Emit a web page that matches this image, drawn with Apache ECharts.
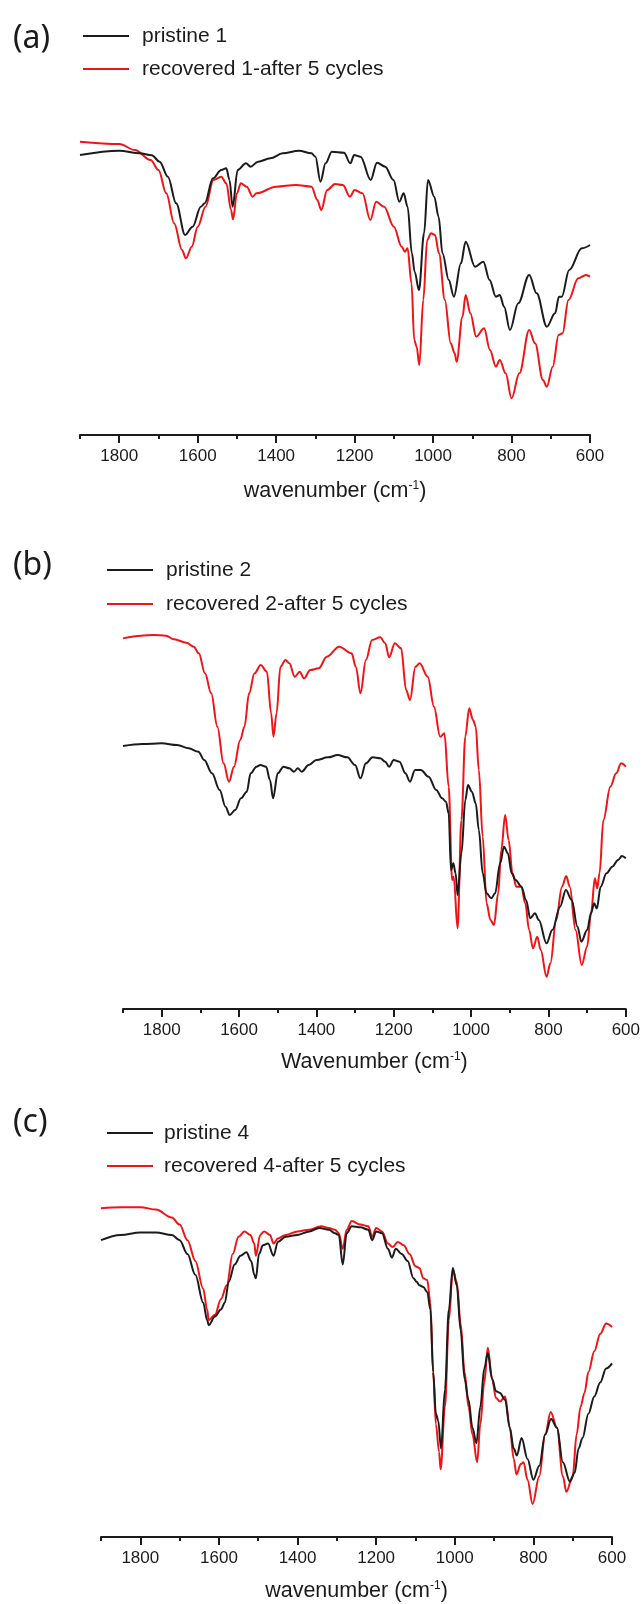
<!DOCTYPE html>
<html>
<head>
<meta charset="utf-8">
<script src="https://cdn.jsdelivr.net/npm/echarts@6/dist/echarts.min.js"></script>
<style>
html,body{margin:0;padding:0;background:#fff;}
#chart{width:643px;height:1604px;}
</style>
</head>
<body>
<div id="chart"></div>
<script>
// ---------- tick labels ----------
const majorTicks = [600, 800, 1000, 1200, 1400, 1600, 1800];
const minorTicks = [700, 900, 1100, 1300, 1500, 1700, 1900];

// ---------- panel (a) ----------
const aPristineWn = [1900,1800,1748,1717,1697,1676,1655,1632,1613,1592,1582,1561,1540,1527,1519,1511,1498,1477,1465,1446,1415,1383,1342,1310,1300,1287,1274,1258,1227,1211,1201,1185,1159,1143,1122,1101,1086,1075,1065,1054,1047,1036,1023,1013,997,986,976,960,947,929,917,893,872,856,840,830,819,804,783,755,736,710,689,679,672,653,621,600];
const aPristineT  = [84.0,85.3,84.5,83.9,82.0,77.5,69.5,60.0,62.5,68.5,69.5,77.0,79.5,80.0,76.5,68.5,79.5,81.5,80.5,82.0,83.0,84.5,85.3,84.5,83.5,76.0,81.5,85.0,84.7,81.5,84.0,83.5,76.5,81.7,80.5,76.5,70.0,72.5,68.5,54.5,49.0,43.5,60.5,76.5,71.5,65.5,54.5,46.5,41.5,51.5,58.0,50.5,52.0,46.5,41.5,42.0,38.5,31.5,39.5,48.0,42.5,32.5,36.5,41.5,41.5,49.5,56.0,57.0];
const aRecovWn = [1900,1800,1760,1720,1700,1680,1660,1640,1630,1615,1600,1580,1560,1540,1527,1515,1510,1500,1490,1475,1460,1450,1400,1350,1310,1295,1285,1270,1250,1230,1212,1200,1180,1160,1145,1125,1100,1080,1072,1065,1055,1048,1042,1035,1025,1015,1005,995,985,970,955,945,940,925,917,905,890,870,855,840,830,815,800,780,755,740,720,710,695,680,670,655,630,610,600];
const aRecovT  = [88.0,87.3,85.5,82.5,79.5,72.5,63.5,55.5,53.0,56.5,62.5,68.5,76.5,77.5,75.5,67.5,64.7,72.5,75.5,74.5,71.5,72.5,74.5,75.0,74.5,70.5,67.5,73.5,75.3,75.0,71.5,73.5,72.5,64.5,70.0,68.5,62.5,56.5,55.0,56.0,45.5,28.5,26.5,21.0,40.5,58.5,60.5,60.0,54.5,40.5,27.5,24.5,22.0,35.5,42.0,36.5,29.5,32.0,25.5,20.5,22.5,18.5,11.0,18.5,31.5,27.5,16.5,14.5,20.5,30.0,30.5,40.5,47.0,48.0,47.5];

// ---------- panel (b) ----------
const bPristineWn = [1900,1850,1800,1760,1730,1705,1690,1670,1650,1635,1624,1610,1595,1580,1570,1555,1545,1530,1520,1512,1500,1485,1470,1458,1448,1438,1420,1400,1370,1345,1320,1300,1286,1272,1255,1235,1222,1212,1200,1185,1170,1158,1145,1130,1110,1090,1075,1065,1058,1052,1046,1040,1035,1025,1015,1008,998,988,980,970,960,948,938,925,915,905,895,885,870,858,847,835,825,805,790,770,755,740,725,715,700,690,682,675,665,650,635,620,610,600];
const bPristineT  = [78.9,79.5,79.7,79.2,78.2,77.2,74.7,70.7,65.7,60.7,58.2,59.7,63.2,65.2,70.7,72.7,73.2,72.7,68.7,63.2,70.7,72.7,72.2,71.2,72.2,71.2,73.2,74.7,75.5,76.2,75.5,73.2,69.2,73.7,75.5,75.2,74.2,72.7,74.7,74.2,70.7,68.2,71.7,71.7,69.7,65.7,63.2,62.2,58.7,41.7,43.7,40.7,34.2,46.7,62.7,67.2,65.2,61.7,53.7,40.7,34.7,33.2,34.7,43.7,48.7,46.7,40.7,38.7,36.7,32.7,27.2,28.7,26.7,19.7,23.7,30.7,35.7,32.7,24.7,20.2,23.7,28.7,31.7,30.2,36.7,40.7,42.7,44.7,45.9,45.2];
const bRecovWn = [1900,1853,1821,1789,1768,1736,1717,1704,1688,1672,1656,1640,1626,1613,1597,1586,1574,1560,1544,1528,1517,1511,1503,1493,1480,1470,1456,1443,1432,1416,1394,1373,1341,1309,1298,1286,1272,1256,1235,1222,1212,1197,1181,1168,1158,1144,1133,1112,1096,1080,1069,1058,1049,1045,1035,1025,1015,1005,995,988,980,970,960,950,941,930,922,912,903,893,883,870,860,850,840,829,820,805,795,780,765,754,745,730,714,700,690,680,674,668,658,640,625,612,600];
const bRecovT  = [111.2,112.0,112.2,112.0,110.9,109.9,108.7,106.7,100.7,94.7,84.7,73.7,68.2,72.7,80.7,84.7,94.7,100.7,103.2,101.2,88.7,81.7,88.7,102.7,104.7,103.7,99.7,101.2,99.2,101.7,102.2,105.7,108.7,106.7,102.7,94.7,104.7,110.7,111.5,109.7,105.5,109.7,108.2,95.7,92.7,102.7,103.7,99.7,90.7,81.7,82.7,66.7,38.7,39.7,24.2,56.7,81.7,90.2,86.7,84.7,71.7,51.7,31.7,26.7,25.2,34.7,47.7,58.2,50.7,40.7,36.7,36.7,31.7,23.7,18.2,21.7,17.7,9.7,13.7,26.7,36.7,39.9,36.7,23.7,13.2,18.7,28.7,39.2,36.2,40.7,56.7,66.7,70.7,73.7,72.7];

// ---------- panel (c) ----------
const cPristineWn = [1900,1850,1800,1760,1720,1700,1680,1660,1640,1630,1626,1610,1595,1585,1575,1560,1545,1530,1518,1510,1506,1498,1488,1475,1461,1450,1430,1400,1370,1345,1320,1305,1295,1285,1275,1262,1240,1220,1210,1200,1185,1170,1160,1150,1135,1120,1105,1097,1090,1080,1070,1062,1055,1048,1042,1035,1025,1015,1005,995,985,975,965,955,945,935,925,916,905,895,885,872,860,850,842,830,815,800,785,770,755,740,725,707,695,685,675,660,645,630,615,600];
const cPristineT  = [85.5,87.0,87.7,87.7,87.0,85.5,81.5,75.5,67.5,62.5,61.0,63.5,65.5,67.5,73.5,78.5,81.0,82.0,79.5,75.5,74.5,81.5,84.0,84.5,81.0,85.0,86.5,87.0,88.0,89.0,88.5,87.5,87.0,78.5,87.5,89.5,89.2,88.5,85.5,88.0,87.5,83.0,80.5,83.0,81.5,79.5,74.5,73.5,72.5,72.0,70.5,65.5,47.5,35.5,33.5,25.5,42.5,65.5,77.5,72.5,59.5,45.5,39.5,31.5,27.0,37.5,48.5,53.0,45.5,42.0,41.5,39.5,31.5,25.5,23.5,28.5,22.5,16.5,20.5,29.5,34.0,31.5,21.5,16.0,18.5,25.5,28.5,35.5,40.5,44.5,48.5,50.0];
const cRecovWn = [1900,1850,1800,1760,1720,1700,1680,1660,1640,1630,1626,1610,1595,1580,1565,1550,1535,1520,1510,1506,1495,1485,1470,1461,1450,1430,1400,1370,1340,1320,1305,1295,1285,1275,1262,1240,1220,1210,1200,1185,1170,1158,1145,1130,1115,1100,1090,1080,1070,1062,1055,1048,1040,1036,1025,1015,1005,995,985,975,965,955,943,935,925,916,905,895,885,872,860,850,843,832,825,815,802,785,770,756,740,725,716,700,690,680,670,660,645,630,615,600];
const cRecovT  = [94.7,95.0,95.0,94.3,92.0,90.0,85.5,79.5,71.5,65.5,62.5,64.0,68.5,72.5,81.5,86.5,88.0,87.0,84.5,81.0,87.0,88.0,87.0,84.5,86.0,87.0,88.0,88.5,89.5,89.0,88.5,87.5,83.0,88.5,91.0,90.0,89.5,86.5,89.0,88.0,84.5,83.5,85.0,84.0,81.5,78.0,77.5,74.5,74.0,67.5,47.5,32.5,24.5,19.5,37.5,62.5,77.0,73.5,61.5,47.5,37.5,29.5,21.5,32.5,44.5,54.5,45.5,40.0,39.0,40.5,31.5,22.5,18.0,21.0,21.5,16.5,9.5,17.5,29.5,36.0,31.5,17.5,13.0,17.5,29.5,37.5,41.5,47.5,53.5,58.5,61.5,60.5];

const names = {
  a: ['pristine 1', 'recovered 1-after 5 cycles'],
  b: ['pristine 2', 'recovered 2-after 5 cycles'],
  c: ['pristine 4', 'recovered 4-after 5 cycles']
};
const panelLabels = ['(a)', '(b)', '(c)'];
const axisTitles = ['wavenumber', 'Wavenumber', 'wavenumber'];

const BLACK = '#1b1b1b', RED = '#f01414';
const zip = (xs, ys) => xs.map((x, i) => [x, ys[i]]);

// layout per panel
const grids = [
  {left: 80, right: 53, top: 135, bottom: 1169},
  {left: 123, right: 16, top: 625.7, bottom: 595},
  {left: 101, right: 31, top: 1189.8, bottom: 67}
];
const yMax = [90, 115, 100];
const nameGaps = [45, 42, 43];

const xAxes = [], yAxes = [];
grids.forEach((g, i) => {
  const rich = {
    n: {fontSize: 21.5, fontFamily: 'Liberation Sans', color: '#1b1b1b'},
    s: {fontSize: 12, fontFamily: 'Liberation Sans', color: '#1b1b1b', padding: [0,0,11,0]}
  };
  xAxes.push({
    type: 'value', gridIndex: i, position: 'bottom', min: 600, max: 1900, inverse: true,
    splitLine: {show: false},
    axisLine: {show: true, onZero: false, lineStyle: {color: '#1b1b1b', width: 2}},
    axisTick: {show: true, length: 8, inside: false, customValues: majorTicks, lineStyle: {color: '#1b1b1b', width: 2}},
    axisLabel: {show: true, customValues: majorTicks, formatter: v => String(v), margin: 13, fontSize: 17, fontFamily: 'Liberation Sans', color: '#1b1b1b'},
    name: '{n|' + axisTitles[i] + ' (cm}{s|-1}{n|)}',
    nameLocation: 'middle', nameGap: nameGaps[i],
    nameTextStyle: {rich: rich}
  });
  // minor ticks
  xAxes.push({
    type: 'value', gridIndex: i, position: 'bottom', offset: 0, min: 600, max: 1900, inverse: true,
    splitLine: {show: false},
    axisLine: {show: false, onZero: false},
    axisTick: {show: true, length: 4, customValues: minorTicks, lineStyle: {color: '#1b1b1b', width: 2}},
    axisLabel: {show: false}
  });
  yAxes.push({type: 'value', gridIndex: i, min: 0, max: yMax[i], show: false});
});

const lineSeries = (name, data, color, idx) => ({
  name, type: 'line', xAxisIndex: idx * 2, yAxisIndex: idx, data,
  showSymbol: false, smooth: 0.35, smoothMonotone: 'x',
  lineStyle: {color, width: 2}, itemStyle: {color}, z: color === RED ? 2 : 3
});

const series = [
  lineSeries(names.a[1], zip(aRecovWn, aRecovT), RED, 0),
  lineSeries(names.a[0], zip(aPristineWn, aPristineT), BLACK, 0),
  lineSeries(names.b[1], zip(bRecovWn, bRecovT), RED, 1),
  lineSeries(names.b[0], zip(bPristineWn, bPristineT), BLACK, 1),
  lineSeries(names.c[1], zip(cRecovWn, cRecovT), RED, 2),
  lineSeries(names.c[0], zip(cPristineWn, cPristineT), BLACK, 2)
];

const legendCfg = (data, left, top, gap, padLeft) => ({
  data, orient: 'vertical', left, top, itemGap: gap, icon: 'rect',
  itemWidth: 46, itemHeight: 2, selectedMode: false, padding: 0,
  textStyle: {fontSize: 21, fontFamily: 'Liberation Sans', color: '#1b1b1b', lineHeight: 21, padding: [0,0,0,padLeft]}
});

const titleCfg = (text, top) => ({
  text, left: 13, top, padding: 0,
  textStyle: {fontSize: 32, fontWeight: 'normal', fontFamily: 'Noto Sans', color: '#1a1a1a', lineHeight: 32}
});

const option = {
  backgroundColor: '#ffffff',
  animation: false,
  title: [titleCfg(panelLabels[0], 23), titleCfg(panelLabels[1], 550), titleCfg(panelLabels[2], 1107)],
  legend: [
    legendCfg(names.a, 83, 25.5, 12, 8),
    legendCfg(names.b, 107, 559.5, 13, 8),
    legendCfg(names.c, 107, 1122.5, 12, 6)
  ],
  grid: grids,
  xAxis: xAxes,
  yAxis: yAxes,
  series
};

const chart = echarts.init(document.getElementById('chart'), null, {renderer: 'canvas'});
chart.setOption(option);
</script>
</body>
</html>
